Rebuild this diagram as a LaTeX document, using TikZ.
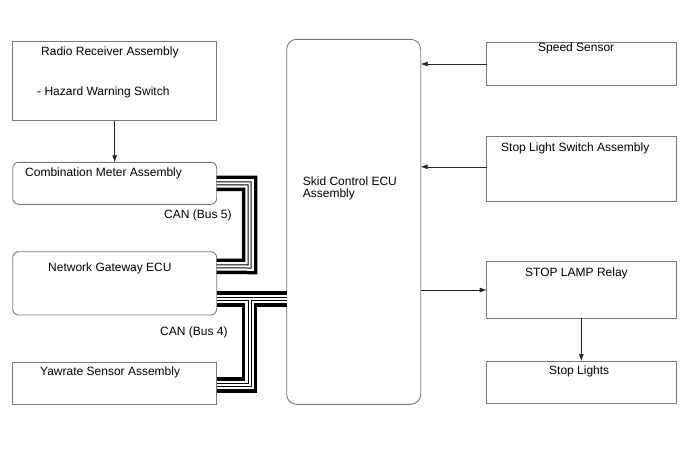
\documentclass[tikz,border=0pt]{standalone}
\usepackage{fontspec}
\setmainfont{Liberation Sans}
\usetikzlibrary{arrows.meta}
\definecolor{boxgray}{RGB}{120,120,120}
\begin{document}
\begin{tikzpicture}[x=1pt,y=-1pt,
  box/.style={draw=boxgray,line width=0.9pt,anchor=north west,inner sep=0pt,outer sep=0pt},
  rbox/.style={box,rounded corners=6pt},
  lbl/.style={anchor=base west,inner sep=0pt,font=\fontsize{12}{13}\selectfont},
  arr/.style={line width=0.6pt,draw=black!85,-{Latex[length=7pt,width=5pt]}}]
\useasboundingbox (0,0) rectangle (688,463);

% boxes
\node[box,minimum width=204pt,minimum height=79pt] (radio) at (12.7,41.7) {};
\node[rbox,minimum width=204pt,minimum height=42pt] (cm) at (12.7,162.3) {};
\node[rbox,minimum width=204pt,minimum height=63.3pt] (gw) at (12.7,251.7) {};
\node[box,minimum width=204pt,minimum height=42pt] (yaw) at (12.7,362.3) {};
\node[box,rounded corners=10pt,minimum width=134pt,minimum height=365pt] (ecu) at (286.7,39.3) {};
\node[box,minimum width=189.3pt,minimum height=43.4pt] (speed) at (486.7,42.3) {};
\node[box,minimum width=189.3pt,minimum height=64.3pt] (sw) at (486.7,136.7) {};
\node[box,minimum width=189.3pt,minimum height=56.6pt] (relay) at (486.7,261.7) {};
\node[box,minimum width=189.3pt,minimum height=42.3pt] (lights) at (486.7,361) {};

% labels
\node[lbl] (tradio) at (41,55.6) {Radio Receiver Assembly};
\node[lbl] (thaz) at (37,95.6) {- Hazard Warning Switch};
\node[lbl] (tcm) at (25,176.6) {Combination Meter Assembly};
\node[lbl] (tcan5) at (164,218.6) {CAN (Bus 5)};
\node[lbl] (tgw) at (48,271) {Network Gateway ECU};
\node[lbl] (tcan4) at (160,335) {CAN (Bus 4)};
\node[lbl] (tyaw) at (40,375.3) {Yawrate Sensor Assembly};
\node[lbl] (tecu1) at (302.7,185) {Skid Control ECU};
\node[lbl] (tecu2) at (302.7,197.8) {Assembly};
\node[lbl] (tspeed) at (538,51.7) {Speed Sensor};
\node[lbl] (tsw) at (501,151.6) {Stop Light Switch Assembly};
\node[lbl] (trelay) at (525,276.7) {STOP LAMP Relay};
\node[lbl] (tlights) at (549,374) {Stop Lights};

% CAN buses
\coordinate (b5) at (249.5,266.5);
\coordinate (b4) at (249.5,299.2);
\foreach \w/\c in {15.5/black,8.5/white,4/black,2/white}{
  \draw[line width=\w pt,\c] (cm.east) -| (b5) -- ([yshift=16.9pt]gw.east);
  \draw[line width=\w pt,\c] ([yshift=-15.8pt]gw.east) -- ([yshift=-15.8pt]gw.east -| ecu.west);
  \draw[line width=\w pt,\c] (b4) |- ([yshift=-1.7pt]yaw.east);
}

% arrows
\draw[arr] (radio.south) -- (cm.north);
\draw[arr] (speed.west) -- (speed.west -| ecu.east);
\draw[arr] ([yshift=2pt]sw.west) -- ([yshift=2pt]sw.west -| ecu.east);
\draw[arr] (relay.west -| ecu.east) -- (relay.west);
\draw[arr] (relay.south) -- (lights.north);
\end{tikzpicture}
\end{document}
